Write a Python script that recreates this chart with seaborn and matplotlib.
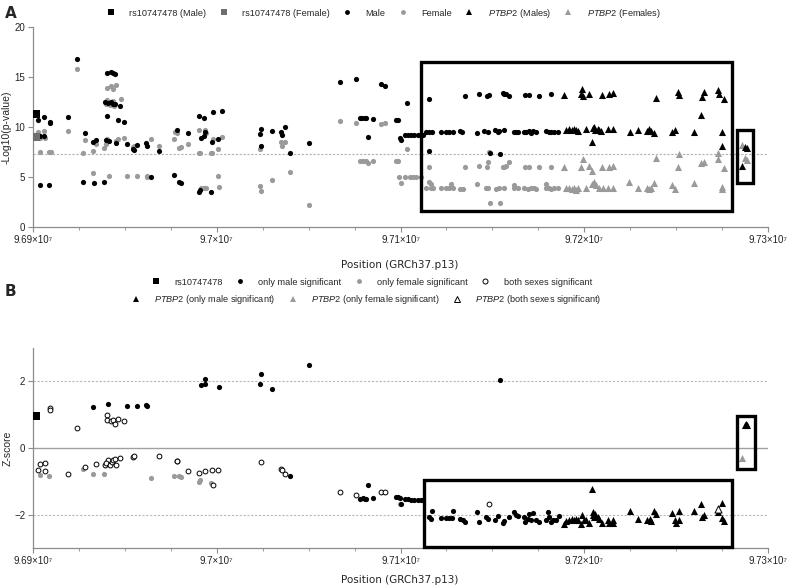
import matplotlib
matplotlib.use("Agg")
import matplotlib.pyplot as plt
import seaborn as sns
import pandas as pd
from matplotlib.lines import Line2D
from matplotlib.patches import Rectangle
from matplotlib.ticker import FixedLocator, MultipleLocator, FixedFormatter

# ---------------- data (positions in kb, GRCh37.p13) ----------------
xtick_values_kb = [96900, 97000, 97100, 97200, 97300]
xtick_labels = ["9.69×10⁷", "9.7×10⁷", "9.71×10⁷", "9.72×10⁷", "9.73×10⁷"]

# Panel A: -log10(p)
A_rs_male = [(96901.5, 11.3)]
A_rs_female = [(96901.5, 9.03)]
A_male = [
    (96902.5, 10.7), (96903.8, 9.1), (96903.8, 4.2), (96906.2, 10.97), (96906.2, 9.1),
    (96908.7, 4.2), (96909.2, 10.53), (96909.2, 10.37), (96919.2, 11.03), (96924.1, 16.77),
    (96927.0, 4.53), (96928.3, 9.37), (96932.8, 8.53), (96934.2, 8.67), (96933.0, 4.37),
    (96938.4, 4.53), (96940.0, 15.43), (96942.4, 15.5), (96943.7, 15.37), (96944.6, 15.27),
    (96939.1, 12.47), (96941.0, 12.37), (96942.4, 12.53), (96943.7, 12.3), (96944.6, 12.27),
    (96940.4, 11.13), (96939.7, 8.7), (96941.5, 8.6), (96945.1, 8.43), (96946.0, 10.7),
    (96947.3, 12.13), (96949.5, 10.47), (96951.3, 8.33), (96954.2, 7.8), (96954.9, 7.7),
    (96956.7, 8.2), (96961.4, 8.43), (96962.1, 8.13), (96964.1, 5.03), (96968.5, 7.6),
    (96976.6, 5.2), (96978.1, 9.67), (96979.4, 4.47), (96980.8, 4.4), (96984.1, 9.4),
    (96990.2, 3.53), (96990.8, 3.7), (96990.4, 11.13), (96991.5, 8.93), (96993.3, 10.93),
    (96993.5, 9.47), (96993.3, 9.07), (96996.6, 3.53), (96997.5, 8.53), (96998.0, 11.53),
    (97000.9, 8.8), (97002.7, 11.63), (97023.7, 9.27), (97024.3, 9.8), (97024.3, 8.13),
    (97030.1, 9.6), (97035.2, 9.53), (97035.5, 9.2), (97037.0, 10.03), (97039.7, 7.43),
    (97050.0, 8.37), (97067.2, 14.47), (97075.9, 14.77), (97077.7, 10.93), (97079.2, 10.87),
    (97080.5, 10.87), (97081.4, 10.93), (97082.3, 8.97), (97085.0, 10.8), (97089.2, 14.3),
    (97091.3, 14.1), (97097.3, 10.7), (97098.6, 10.7), (97099.5, 8.87), (97100.4, 8.7),
    (97103.4, 12.37), (97102.2, 9.2), (97104.0, 9.2), (97105.8, 9.17), (97107.6, 9.17),
    (97109.4, 9.17), (97111.2, 9.17), (97112.1, 9.17), (97115.4, 12.8), (97115.4, 7.6),
    (97135.3, 13.1), (97142.6, 13.27), (97147.1, 13.1), (97148.0, 13.2), (97155.6, 13.37),
    (97156.5, 13.3), (97157.4, 13.27), (97158.9, 13.13), (97167.9, 13.2), (97170.1, 13.2),
    (97175.6, 13.13), (97181.7, 13.27),
    (97114.0, 9.47), (97115.4, 9.53), (97117.2, 9.53), (97122.1, 9.53), (97124.8, 9.53),
    (97126.6, 9.47), (97128.5, 9.53), (97132.4, 9.6), (97133.5, 9.47), (97141.5, 9.43),
    (97145.7, 9.6), (97147.5, 9.53), (97151.6, 9.7), (97152.9, 9.53), (97153.8, 9.6),
    (97156.5, 9.7), (97162.0, 9.47), (97162.9, 9.47), (97163.8, 9.47), (97167.4, 9.47),
    (97168.3, 9.53), (97170.1, 9.6), (97171.0, 9.37), (97171.9, 9.6), (97173.7, 9.53),
    (97179.2, 9.6), (97180.6, 9.53), (97181.9, 9.53), (97183.7, 9.47), (97185.5, 9.53),
    (97148.9, 7.37), (97154.4, 7.27),
]
A_female = [
    (96902.5, 9.53), (96902.9, 8.87), (96903.8, 8.93), (96903.8, 7.47), (96906.2, 9.6),
    (96906.5, 8.87), (96908.9, 7.53), (96909.6, 7.47), (96919.2, 9.6), (96924.1, 15.77),
    (96927.0, 7.43), (96928.3, 8.7), (96932.8, 7.63), (96934.2, 8.27), (96932.8, 5.37),
    (96938.6, 7.87), (96939.7, 8.27), (96940.0, 13.87), (96942.4, 14.1), (96943.7, 13.77),
    (96944.9, 14.2), (96939.7, 12.27), (96940.4, 12.7), (96941.9, 12.2), (96943.3, 12.6),
    (96944.2, 12.13), (96940.4, 8.8), (96941.1, 5.13), (96945.1, 8.6), (96946.4, 8.8),
    (96947.7, 12.8), (96949.5, 8.93), (96951.3, 5.13), (96954.5, 7.97), (96954.9, 8.13),
    (96956.7, 5.13), (96961.8, 5.13), (96962.3, 5.03), (96964.3, 8.8), (96968.5, 8.13),
    (96976.6, 8.8), (96977.5, 9.47), (96978.1, 9.37), (96979.4, 7.93), (96980.8, 8.03),
    (96984.4, 8.27), (96990.2, 9.7), (96990.4, 7.37), (96990.8, 7.37), (96991.5, 3.87),
    (96992.8, 3.87), (96993.9, 3.87), (96993.5, 9.67), (96993.9, 9.37), (96996.6, 7.37),
    (96997.5, 7.37), (96998.0, 8.77), (97000.9, 5.13), (97001.1, 4.03), (97000.7, 7.8),
    (97002.7, 9.0), (97023.7, 7.8), (97023.7, 4.13), (97024.3, 3.63), (97030.1, 4.67),
    (97035.2, 8.47), (97035.5, 8.13), (97037.0, 8.47), (97039.7, 5.53), (97050.0, 2.2),
    (97067.2, 10.63), (97075.9, 10.43), (97077.7, 6.63), (97079.5, 6.63), (97081.0, 6.63),
    (97082.3, 6.37), (97085.0, 6.63), (97089.2, 10.3), (97091.3, 10.43), (97097.3, 6.6),
    (97098.6, 6.6), (97099.1, 4.97), (97100.4, 4.37), (97102.2, 5.03), (97104.9, 5.03),
    (97106.7, 5.03), (97108.5, 5.03), (97111.2, 5.03), (97103.4, 7.8), (97115.4, 6.03),
    (97115.4, 4.53), (97116.7, 4.27),
    (97114.0, 3.87), (97116.7, 3.87), (97117.6, 3.87), (97122.1, 3.87), (97124.8, 3.87),
    (97126.6, 3.87), (97128.5, 3.87), (97132.4, 3.8), (97133.9, 3.8), (97146.6, 3.87),
    (97147.5, 3.87), (97152.0, 3.8), (97153.8, 3.93), (97156.5, 3.87), (97162.0, 3.93),
    (97163.8, 3.87), (97167.4, 3.87), (97169.2, 3.8), (97171.0, 3.87), (97172.8, 3.87),
    (97173.7, 3.8), (97179.2, 3.93), (97180.6, 3.87), (97181.9, 3.8), (97183.7, 3.87),
    (97185.5, 3.87), (97127.5, 4.27), (97141.5, 4.27), (97162.0, 4.2), (97179.2, 4.27),
    (97135.3, 6.03), (97142.6, 6.1), (97147.1, 6.03), (97155.6, 6.03), (97156.5, 6.03),
    (97157.4, 6.1), (97158.9, 6.53), (97167.9, 6.03), (97170.1, 6.03), (97175.6, 6.03),
    (97181.7, 6.03), (97148.4, 7.53), (97147.5, 6.53), (97148.9, 2.43), (97154.4, 2.43),
]
A_ptbp2_male = [
    (97188.8, 13.2), (97198.7, 13.77), (97198.2, 13.27), (97199.1, 13.13), (97202.7, 13.3),
    (97209.4, 13.2), (97213.6, 13.3), (97215.4, 13.37), (97239.3, 12.87), (97250.9, 13.53),
    (97251.6, 13.2), (97263.4, 11.2), (97264.0, 13.03), (97265.2, 13.53), (97273.0, 13.7),
    (97273.4, 13.27), (97276.1, 12.8),
    (97190.0, 9.7), (97191.9, 9.8), (97193.3, 9.7), (97194.6, 9.8), (97195.5, 9.7),
    (97196.4, 9.6), (97200.9, 9.8), (97204.5, 9.87), (97205.4, 10.03), (97206.0, 9.7),
    (97207.3, 9.8), (97208.2, 9.7), (97209.1, 9.6), (97212.7, 9.8), (97215.8, 9.8),
    (97224.8, 9.53), (97229.5, 9.7), (97234.1, 9.6), (97235.3, 9.8), (97236.2, 9.6),
    (97238.1, 9.37), (97247.7, 9.53), (97249.5, 9.7), (97259.8, 9.47), (97275.2, 9.47),
    (97204.0, 8.47), (97274.7, 8.1), (97287.5, 8.03), (97288.8, 7.93), (97285.7, 6.13),
]
A_ptbp2_female = [
    (97188.8, 6.03), (97198.2, 6.03), (97199.1, 6.8), (97202.7, 6.13), (97204.0, 5.6),
    (97209.4, 6.03), (97213.6, 6.03), (97215.4, 6.13), (97239.3, 6.93), (97250.9, 6.03),
    (97251.6, 7.27), (97263.4, 6.43), (97265.2, 6.53), (97273.0, 7.37), (97273.0, 6.77),
    (97276.1, 5.87),
    (97190.0, 3.87), (97191.9, 3.93), (97193.3, 3.8), (97194.6, 3.87), (97195.5, 3.7),
    (97196.4, 3.87), (97200.9, 3.93), (97204.2, 4.27), (97205.4, 4.47), (97206.4, 4.2),
    (97208.2, 3.93), (97210.0, 3.87), (97212.7, 3.87), (97215.8, 3.93), (97224.5, 4.53),
    (97229.5, 3.93), (97234.1, 3.87), (97235.3, 3.8), (97236.2, 3.93), (97238.1, 4.37),
    (97247.7, 4.2), (97249.5, 3.8), (97259.8, 4.37), (97274.8, 4.03), (97275.2, 3.8),
    (97286.1, 8.2), (97287.5, 6.93), (97288.8, 6.7),
]
A_gw_threshold = 7.3
A_boxes = [(97111.4, 1.6, 97280.5, 16.5), (97283.0, 4.37, 97291.9, 9.67)]

# Panel B: Z-score of sex difference
B_rs = [(96901.5, 0.96)]
B_male_only = [
    (96932.8, 1.22), (96941.0, 1.33), (96951.3, 1.27), (96956.7, 1.25), (96961.4, 1.3),
    (96962.3, 1.27), (96991.7, 1.88), (96993.5, 2.08), (96993.7, 1.93), (97001.1, 1.83),
    (97023.7, 1.91), (97024.3, 2.21), (97030.1, 1.78), (97050.0, 2.48), (97039.7, -0.83),
    (97077.7, -1.54), (97079.5, -1.49), (97080.5, -1.52), (97081.4, -1.52), (97082.3, -1.12),
    (97085.0, -1.5), (97097.3, -1.47), (97098.6, -1.47), (97099.5, -1.49), (97100.4, -1.69),
    (97102.2, -1.52), (97104.0, -1.54), (97105.8, -1.55), (97107.6, -1.55), (97109.4, -1.55),
    (97111.2, -1.55), (97112.1, -1.55), (97154.4, 2.03),
    (97115.4, -2.07), (97117.2, -1.9), (97116.7, -2.12), (97122.1, -2.1), (97124.8, -2.1),
    (97126.6, -2.1), (97128.5, -1.9), (97128.1, -2.1), (97132.6, -2.12), (97133.9, -2.15),
    (97135.3, -2.22), (97141.5, -1.92), (97142.6, -2.22), (97146.6, -2.07), (97147.5, -2.12),
    (97152.9, -2.04), (97151.6, -2.17), (97155.6, -2.24), (97156.5, -2.19), (97158.9, -2.07),
    (97162.0, -1.92), (97162.9, -2.02), (97163.8, -2.04), (97167.4, -2.07), (97167.9, -2.22),
    (97169.2, -2.12), (97170.1, -1.97), (97171.0, -2.17), (97171.9, -1.95), (97173.7, -2.17),
    (97175.2, -2.22), (97179.2, -2.17), (97180.1, -1.92), (97181.0, -2.07), (97181.9, -2.22),
    (97182.8, -2.17), (97184.6, -2.15), (97186.1, -2.04),
]
B_female_only = [
    (96903.8, -0.82), (96908.7, -0.85), (96927.0, -0.64), (96932.8, -0.79), (96938.6, -0.77),
    (96964.1, -0.9), (96976.6, -0.85), (96979.4, -0.84), (96980.8, -0.87), (96990.2, -1.02),
    (96990.8, -0.97), (96996.6, -1.05), (97099.5, -1.67),
]
B_both = [
    (96902.5, -0.67), (96903.8, -0.47), (96906.5, -0.44), (96906.5, -0.69), (96909.2, 1.21),
    (96909.2, 1.15), (96919.2, -0.77), (96924.1, 0.61), (96928.3, -0.57), (96934.2, -0.48),
    (96940.4, 0.98), (96940.0, 0.83), (96942.4, 0.8), (96943.7, 0.83), (96944.6, 0.71),
    (96946.4, 0.86), (96949.5, 0.8), (96940.6, -0.35), (96939.3, -0.5), (96939.7, -0.45),
    (96941.9, -0.5), (96942.8, -0.42), (96943.7, -0.37), (96944.6, -0.32), (96945.1, -0.5),
    (96947.3, -0.3), (96954.5, -0.27), (96955.1, -0.25), (96968.5, -0.23), (96978.1, -0.4),
    (96978.6, -0.4), (96984.4, -0.69), (96990.4, -0.74), (96993.5, -0.69), (96997.5, -0.67),
    (96998.0, -1.1), (97000.9, -0.67), (97024.3, -0.42), (97035.2, -0.62), (97035.3, -0.65),
    (97037.0, -0.77), (97067.2, -1.32), (97075.9, -1.4), (97089.2, -1.32), (97091.3, -1.32),
    (97148.0, -1.67),
]
B_ptbp2_male = [
    (97188.8, -2.29), (97190.0, -2.2), (97191.9, -2.17), (97193.3, -2.14), (97194.6, -2.17),
    (97195.5, -2.12), (97196.4, -2.17), (97198.2, -2.27), (97198.7, -2.02), (97200.0, -2.15),
    (97200.9, -2.17), (97202.4, -2.24), (97204.0, -1.22), (97204.5, -1.92), (97204.9, -2.02),
    (97205.4, -2.07), (97206.0, -1.97), (97207.3, -2.07), (97208.2, -2.12), (97209.6, -2.25),
    (97212.7, -2.15), (97213.6, -2.25), (97215.4, -2.15), (97215.8, -2.25), (97224.8, -1.9),
    (97229.5, -2.12), (97234.1, -2.15), (97235.7, -2.12), (97236.2, -2.19), (97238.1, -1.9),
    (97239.3, -1.97), (97247.7, -1.95), (97249.5, -2.15), (97250.2, -2.25), (97251.3, -2.15),
    (97251.6, -1.9), (97259.8, -1.9), (97263.4, -1.67), (97264.3, -2.07), (97265.2, -2.02),
    (97273.0, -1.92), (97274.7, -1.64), (97275.2, -2.1), (97276.1, -2.2),
    (97287.5, 0.7), (97288.2, 0.73), (97288.8, 0.68),
]
B_ptbp2_female = [(97286.1, -0.3)]
B_ptbp2_both = [(97273.0, -1.82)]
B_boxes = [(97113.0, -2.97, 97280.6, -0.97), (97283.3, -0.64, 97292.8, 0.97)]

# ---------------- style ----------------
sns.set_style("ticks")
SANS = ["Liberation Sans", "DejaVu Sans"]
plt.rcParams["font.family"] = ["DejaVu Sans"]
plt.rcParams["mathtext.fontset"] = "custom"
plt.rcParams["mathtext.it"] = "Liberation Sans:italic"
plt.rcParams["mathtext.rm"] = "Liberation Sans"

BLACK = "#000000"
GRAY = "#9a9a9a"
AXC = "#8c8c8c"


def df(pairs):
    return pd.DataFrame(pairs, columns=["kb", "val"])


fig = plt.figure(figsize=(7.88, 5.86), dpi=100)
axA = fig.add_axes([33 / 788, 1 - 227 / 586, 735 / 788, 200 / 586])
axB = fig.add_axes([33 / 788, 1 - 548 / 586, 735 / 788, 200 / 586])

S_DOT = 14
S_TRI = 26
S_SQ = 40


def scat(ax, pairs, color, marker, s, edge=None, lw=0.0, z=3):
    d = df(pairs)
    sns.scatterplot(data=d, x="kb", y="val", ax=ax, color=color, marker=marker, s=s,
                    edgecolor=edge if edge is not None else color, linewidth=lw,
                    legend=False, zorder=z)


# Panel A
axA.axhline(A_gw_threshold, color="#b0b0b0", lw=0.8, ls=(0, (2, 1.5)), zorder=1)
scat(axA, A_female, GRAY, "o", S_DOT)
scat(axA, A_ptbp2_female, GRAY, "^", S_TRI)
scat(axA, A_male, BLACK, "o", S_DOT)
scat(axA, A_ptbp2_male, BLACK, "^", S_TRI)
scat(axA, A_rs_female, "#6e6e6e", "s", S_SQ)
scat(axA, A_rs_male, BLACK, "s", S_SQ)
for x0, y0, x1, y1 in A_boxes:
    axA.add_patch(Rectangle((x0, y0), x1 - x0, y1 - y0, fill=False, ec="black", lw=2.4,
                            zorder=5, clip_on=False))
axA.set_ylim(0, 20)
axA.set_yticks([0, 5, 10, 15, 20])

# Panel B
axB.axhline(0, color="#a0a0a0", lw=1.0, zorder=1)
for v in (-2, 2):
    axB.axhline(v, color="#b8b8b8", lw=0.8, ls=(0, (2, 1.5)), zorder=1)
scat(axB, B_female_only, GRAY, "o", S_DOT)
scat(axB, B_ptbp2_female, GRAY, "^", S_TRI)
scat(axB, B_male_only, BLACK, "o", S_DOT)
scat(axB, B_ptbp2_male, BLACK, "^", S_TRI)
scat(axB, B_both, "white", "o", 12, edge=BLACK, lw=0.7)
scat(axB, B_ptbp2_both, "white", "^", S_TRI, edge=BLACK, lw=0.7)
scat(axB, B_rs, BLACK, "s", S_SQ)
for x0, y0, x1, y1 in B_boxes:
    axB.add_patch(Rectangle((x0, y0), x1 - x0, y1 - y0, fill=False, ec="black", lw=2.4,
                            zorder=5, clip_on=False))
axB.set_ylim(-3, 3)
axB.set_yticks([-2, 0, 2])

for ax in (axA, axB):
    ax.set_xlim(xtick_values_kb[0], xtick_values_kb[-1])
    ax.xaxis.set_major_locator(FixedLocator(xtick_values_kb))
    ax.xaxis.set_major_formatter(FixedFormatter(xtick_labels))
    ax.xaxis.set_minor_locator(MultipleLocator(25))
    for sp in ("top", "right"):
        ax.spines[sp].set_visible(False)
    for sp in ("left", "bottom"):
        ax.spines[sp].set_color(AXC)
        ax.spines[sp].set_linewidth(0.9)
    ax.tick_params(axis="both", which="both", color=AXC, direction="out")
    ax.tick_params(axis="both", which="major", length=3.5, pad=2)
    ax.tick_params(axis="x", which="minor", length=2.5)
    for lab in ax.get_xticklabels() + ax.get_yticklabels():
        lab.set_family(SANS)
        lab.set_fontsize(7)
        lab.set_color("#222222")
    ax.set_facecolor("white")
    ax.set_xlabel("")
    ax.set_ylabel("")

# axis titles
fig.text(400 / 788, 1 - 265 / 586, "Position (GRCh37.p13)", fontsize=7.5, ha="center", va="center")
fig.text(400 / 788, 1 - 580 / 586, "Position (GRCh37.p13)", fontsize=7.5, ha="center", va="center")
fig.text(7 / 788, 1 - 127 / 586, "-Log10(p-value)", fontsize=7.5, rotation=90, ha="center",
         va="center", family=SANS)
fig.text(8 / 788, 1 - 448 / 586, "Z-score", fontsize=7.5, rotation=90, ha="center",
         va="center", family=SANS)

# Legends
def h(marker, color, edge=None, size=4.5):
    return Line2D([], [], ls="none", marker=marker, markersize=size, markerfacecolor=color,
                  markeredgecolor=edge if edge else color, markeredgewidth=0.7 if edge else 0)

LEG = dict(frameon=False, handletextpad=1.4, columnspacing=1.3, handlelength=1.2,
           prop={"family": SANS, "size": 6.6})
legA_handles = [h("s", BLACK), h("s", "#6e6e6e"), h("o", BLACK, size=3.5), h("o", GRAY, size=3.5),
                h("^", BLACK), h("^", GRAY)]
legA_labels = ["rs10747478 (Male)", "rs10747478 (Female)", "Male", "Female",
               r"$\it{PTBP2}$ (Males)", r"$\it{PTBP2}$ (Females)"]
fig.legend(legA_handles, legA_labels, loc="center", bbox_to_anchor=(383 / 788, 1 - 13 / 586),
           ncol=6, **LEG)

legB1_handles = [h("s", BLACK), h("o", BLACK, size=3.5), h("o", GRAY, size=3.5),
                 h("o", "white", BLACK, size=3.6)]
legB1_labels = ["rs10747478", "only male significant", "only female significant",
                "both sexes significant"]
fig.legend(legB1_handles, legB1_labels, loc="center", bbox_to_anchor=(371 / 788, 1 - 282 / 586),
           ncol=4, **LEG)
legB2_handles = [h("^", BLACK), h("^", GRAY), h("^", "white", BLACK)]
legB2_labels = [r"$\it{PTBP2}$ (only male significant)", r"$\it{PTBP2}$ (only female significant)",
                r"$\it{PTBP2}$ (both sexes significant)"]
fig.legend(legB2_handles, legB2_labels, loc="center", bbox_to_anchor=(366 / 788, 1 - 300 / 586),
           ncol=3, **LEG)

fig.text(5 / 788, 1 - 13 / 586, "A", fontsize=11, fontweight="bold", va="center", ha="left")
fig.text(5 / 788, 1 - 292 / 586, "B", fontsize=11, fontweight="bold", va="center", ha="left")

fig.savefig("out.png", dpi=100, facecolor="white")
